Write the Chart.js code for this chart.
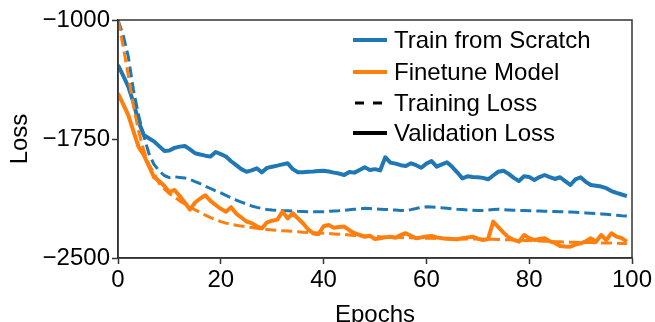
<!DOCTYPE html>
<html>
<head>
<meta charset="utf-8">
<script src="https://cdn.jsdelivr.net/npm/chart.js@4/dist/chart.umd.min.js"></script>
<style>
html,body{margin:0;padding:0;background:#fff;}
#c{display:block;}
</style>
</head>
<body>
<canvas id="c" width="655" height="322"></canvas>
<script>
const epochs = Array.from({length: 100}, (_, i) => i);

const scratchVal = [
-1284,-1350,-1420,-1520,-1640,-1725,-1745,-1765,-1795,-1825,
-1822,-1806,-1798,-1794,-1815,-1840,-1848,-1855,-1861,-1832,
-1845,-1860,-1890,-1915,-1940,-1956,-1948,-1935,-1960,-1932,
-1925,-1918,-1910,-1903,-1940,-1960,-1960,-1957,-1955,-1952,
-1950,-1955,-1962,-1968,-1977,-1958,-1962,-1945,-1928,-1945,
-1940,-1948,-1865,-1899,-1905,-1915,-1920,-1903,-1915,-1931,
-1905,-1889,-1924,-1910,-1897,-1925,-1960,-1998,-1985,-1990,
-1991,-1995,-2004,-1980,-1956,-1950,-1970,-1995,-2015,-1985,
-1990,-2008,-1990,-1977,-1990,-2002,-1991,-2015,-2040,-2004,
-1991,-2020,-2040,-2045,-2050,-2060,-2078,-2090,-2100,-2110];

const scratchTrain = [
-1000,-1095,-1230,-1440,-1600,-1730,-1840,-1910,-1950,-1980,
-1993,-1988,-1992,-1996,-2005,-2018,-2032,-2047,-2062,-2077,
-2090,-2105,-2120,-2135,-2148,-2160,-2172,-2181,-2188,-2194,
-2197,-2199,-2201,-2202,-2204,-2206,-2207,-2208,-2208,-2208,
-2208,-2206,-2204,-2202,-2199,-2196,-2193,-2190,-2187,-2188,
-2190,-2192,-2194,-2196,-2198,-2200,-2201,-2195,-2188,-2180,
-2177,-2178,-2180,-2184,-2187,-2190,-2193,-2195,-2197,-2199,
-2201,-2200,-2197,-2194,-2193,-2195,-2197,-2199,-2200,-2201,
-2202,-2203,-2204,-2205,-2206,-2207,-2208,-2209,-2210,-2212,
-2214,-2216,-2218,-2220,-2222,-2225,-2228,-2231,-2234,-2236];

const finetuneVal = [
-1462,-1530,-1600,-1700,-1800,-1850,-1920,-1990,-2015,-2045,
-2085,-2071,-2110,-2150,-2195,-2150,-2125,-2105,-2140,-2166,
-2190,-2208,-2180,-2220,-2245,-2270,-2280,-2300,-2313,-2275,
-2265,-2258,-2208,-2250,-2218,-2250,-2281,-2320,-2345,-2350,
-2300,-2292,-2309,-2305,-2302,-2325,-2344,-2355,-2366,-2360,
-2380,-2375,-2370,-2366,-2372,-2355,-2344,-2360,-2376,-2370,
-2365,-2361,-2370,-2376,-2378,-2380,-2382,-2375,-2370,-2366,
-2378,-2387,-2380,-2271,-2305,-2340,-2370,-2385,-2397,-2355,
-2375,-2387,-2380,-2376,-2395,-2405,-2424,-2428,-2429,-2415,
-2408,-2395,-2376,-2397,-2355,-2387,-2344,-2365,-2375,-2397];

const finetuneTrain = [
-1000,-1165,-1350,-1540,-1700,-1820,-1910,-1965,-2030,-2065,
-2095,-2115,-2140,-2160,-2180,-2197,-2213,-2230,-2245,-2258,
-2271,-2280,-2288,-2294,-2299,-2303,-2308,-2313,-2317,-2320,
-2323,-2326,-2328,-2330,-2332,-2334,-2337,-2339,-2341,-2343,
-2344,-2346,-2348,-2350,-2352,-2355,-2358,-2360,-2361,-2363,
-2364,-2366,-2367,-2368,-2370,-2371,-2372,-2373,-2374,-2375,
-2376,-2376,-2377,-2377,-2378,-2378,-2379,-2380,-2380,-2381,
-2381,-2382,-2382,-2382,-2383,-2384,-2385,-2386,-2388,-2389,
-2390,-2391,-2393,-2394,-2395,-2397,-2398,-2399,-2400,-2401,
-2402,-2403,-2403,-2404,-2405,-2406,-2406,-2407,-2408,-2408];

const xTicks = [0, 20, 40, 60, 80, 100];
const yTicks = [-2500, -1750, -1000];
const legendLabels = ['Train from Scratch', 'Finetune Model', 'Training Loss', 'Validation Loss'];

const BLUE = '#1f77b4', ORANGE = '#ff7f0e';
const FONT = "'Liberation Sans', Arial, sans-serif";

function pts(arr){ return arr.map((v,i)=>({x: epochs[i], y: v})); }

const framePlugin = {
  id: 'frame',
  afterDraw(chart){
    const {ctx, chartArea: a} = chart;
    ctx.save();
    ctx.strokeStyle = '#333';
    ctx.lineWidth = 1.5;
    ctx.strokeRect(a.left, a.top, a.right - a.left, a.bottom - a.top);
    // legend
    const rows = [
      {y: 40, color: BLUE, dash: []},
      {y: 72, color: ORANGE, dash: []},
      {y: 103, color: '#000', dash: [9, 9]},
      {y: 133, color: '#000', dash: []}
    ];
    ctx.font = '24px ' + FONT;
    ctx.textBaseline = 'middle';
    ctx.textAlign = 'left';
    rows.forEach((r, i) => {
      ctx.beginPath();
      ctx.setLineDash(r.dash);
      ctx.strokeStyle = r.color;
      ctx.lineWidth = i === 2 ? 3 : 4;
      ctx.moveTo(r.dash.length ? 355 : 353, r.y);
      ctx.lineTo(387, r.y);
      ctx.stroke();
      ctx.setLineDash([]);
      ctx.fillStyle = '#000';
      ctx.fillText(legendLabels[i], 394, r.y + 1);
    });
    ctx.restore();
  }
};

new Chart(document.getElementById('c'), {
  type: 'line',
  data: {
    datasets: [
      {data: pts(finetuneVal), borderColor: ORANGE, borderWidth: 4},
      {data: pts(finetuneTrain), borderColor: ORANGE, borderWidth: 3, borderDash: [11, 5]},
      {data: pts(scratchVal), borderColor: BLUE, borderWidth: 4},
      {data: pts(scratchTrain), borderColor: BLUE, borderWidth: 3, borderDash: [11, 5]}
    ]
  },
  options: {
    responsive: false,
    animation: false,
    layout: {padding: {left: 0, right: 23, top: 20, bottom: 0}},
    plugins: {legend: {display: false}, tooltip: {enabled: false}},
    elements: {point: {radius: 0}, line: {tension: 0, fill: false, borderJoinStyle: 'round', borderCapStyle: 'butt'}},
    scales: {
      x: {
        type: 'linear', min: 0, max: 100,
        afterBuildTicks: s => { s.ticks = xTicks.map(v => ({value: v})); },
        ticks: {font: {size: 24, family: FONT}, color: '#000', padding: 2, maxRotation: 0, autoSkip: false},
        grid: {drawOnChartArea: false, drawTicks: true, tickLength: 6, color: '#333', tickWidth: 1.5},
        border: {display: true, color: '#333', width: 1.5},
        title: {display: true, text: 'Epochs', font: {size: 24, family: FONT}, color: '#000', padding: {top: 0, bottom: -8}},
        afterFit: s => { s.height = 64; }
      },
      y: {
        min: -2500, max: -1000,
        afterBuildTicks: s => { s.ticks = yTicks.map(v => ({value: v})); },
        ticks: {font: {size: 24, family: FONT}, color: '#000', padding: 2, autoSkip: false,
                callback: v => String(v).replace('-', '\u2212')},
        grid: {drawOnChartArea: false, drawTicks: true, tickLength: 6, color: '#333', tickWidth: 1.5},
        border: {display: true, color: '#333', width: 1.5},
        title: {display: true, text: 'Loss', font: {size: 24, family: FONT}, color: '#000', padding: {top: 6, bottom: 0}},
        afterFit: s => { s.width = 118; }
      }
    }
  },
  plugins: [framePlugin]
});
</script>
</body>
</html>
